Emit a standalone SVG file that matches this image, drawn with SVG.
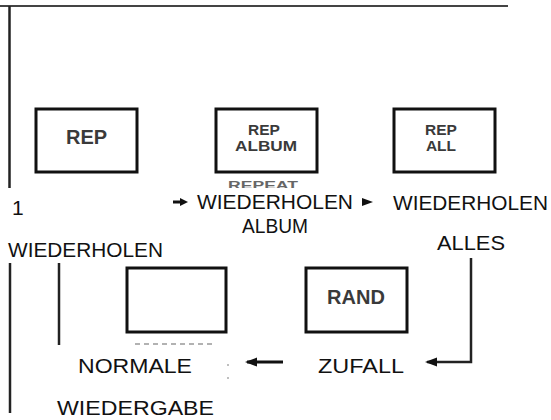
<svg xmlns="http://www.w3.org/2000/svg" width="551" height="420" viewBox="0 0 551 420">
<style>
.box{fill:#fff;stroke:#111;stroke-width:3}
.bt{font-family:"Liberation Sans",Arial,sans-serif;font-weight:bold;fill:#3a3a3a;text-anchor:middle}
.lbl{font-family:"Liberation Sans",Arial,sans-serif;fill:#111;font-size:21px}
.ln{stroke:#222;stroke-width:2.5;fill:none}
.arr{stroke:#111;stroke-width:3;fill:none}
</style>
<defs>
<marker id="ah" markerWidth="12" markerHeight="10" refX="10" refY="5" orient="auto" markerUnits="userSpaceOnUse">
<path d="M0,0.5 L12,5 L0,9.5 Z" fill="#111"/>
</marker>
<clipPath id="cp"><rect x="220" y="180" width="90" height="8"/></clipPath>
</defs>
<rect width="551" height="420" fill="#fff"/>
<g id="frame">
<line x1="0" y1="6" x2="508" y2="6" stroke="#444" stroke-width="2"/>
<line x1="9.5" y1="6" x2="9.5" y2="188" class="ln"/>
<line x1="10" y1="263" x2="10" y2="413" class="ln"/>
<line x1="59" y1="263" x2="59" y2="345" class="ln"/>
</g>
<g id="rep">
<rect class="box" x="36" y="109" width="101" height="63"/>
<text class="bt" x="86.5" y="144" font-size="20">REP</text>
</g>
<g id="rep-album">
<rect class="box" x="216" y="109" width="101" height="63"/>
<text class="bt" x="264" y="135" font-size="15.5">REP</text>
<text class="bt" x="266" y="151" font-size="15.5" textLength="62" lengthAdjust="spacingAndGlyphs">ALBUM</text>
</g>
<g id="rep-all">
<rect class="box" x="394" y="109" width="101" height="63"/>
<text class="bt" x="441" y="135" font-size="15.5">REP</text>
<text class="bt" x="441" y="151" font-size="15.5">ALL</text>
</g>
<g id="normal">
<rect class="box" x="127" y="268" width="99" height="64"/>
<line x1="135" y1="344" x2="213" y2="344" stroke="#999" stroke-width="1.5" stroke-dasharray="5 4"/>
<circle cx="228" cy="365" r="1" fill="#aaa"/>
<circle cx="228" cy="378" r="1" fill="#aaa"/>
</g>
<g id="rand">
<rect class="box" x="306" y="268" width="101" height="64"/>
<text class="bt" x="356" y="304" font-size="20">RAND</text>
</g>
<g id="labels">
<text class="lbl" x="12" y="215" font-size="17">1</text>
<text x="228" y="189" clip-path="url(#cp)" font-family="Liberation Sans,Arial,sans-serif" font-weight="bold" font-size="11" fill="#666" textLength="70" lengthAdjust="spacingAndGlyphs">REPEAT</text>
<text class="lbl" x="197" y="209" textLength="156" lengthAdjust="spacingAndGlyphs">WIEDERHOLEN</text>
<text class="lbl" x="242" y="233" textLength="66" lengthAdjust="spacingAndGlyphs">ALBUM</text>
<text class="lbl" x="393" y="210" textLength="155" lengthAdjust="spacingAndGlyphs">WIEDERHOLEN</text>
<text class="lbl" x="437" y="250" textLength="68" lengthAdjust="spacingAndGlyphs">ALLES</text>
<text class="lbl" x="8" y="257" textLength="155" lengthAdjust="spacingAndGlyphs">WIEDERHOLEN</text>
<text class="lbl" x="78" y="373" font-size="22" textLength="114" lengthAdjust="spacingAndGlyphs">NORMALE</text>
<text class="lbl" x="318" y="373" font-size="22" textLength="86" lengthAdjust="spacingAndGlyphs">ZUFALL</text>
<text class="lbl" x="57" y="415" font-size="22" textLength="157" lengthAdjust="spacingAndGlyphs">WIEDERGABE</text>
</g>
<g id="connectors">
<line x1="173" y1="202" x2="181" y2="202" stroke="#111" stroke-width="3"/>
<path d="M180,198 L188,202 L180,206 Z" fill="#111"/>
<path d="M362,198 L373,202 L362,206 Z" fill="#111"/>
<line x1="283" y1="362" x2="247" y2="362" class="arr" marker-end="url(#ah)"/>
<polyline points="471,258 471,362 427,362" fill="none" stroke="#222" stroke-width="2.5" marker-end="url(#ah)"/>
</g>
</svg>
